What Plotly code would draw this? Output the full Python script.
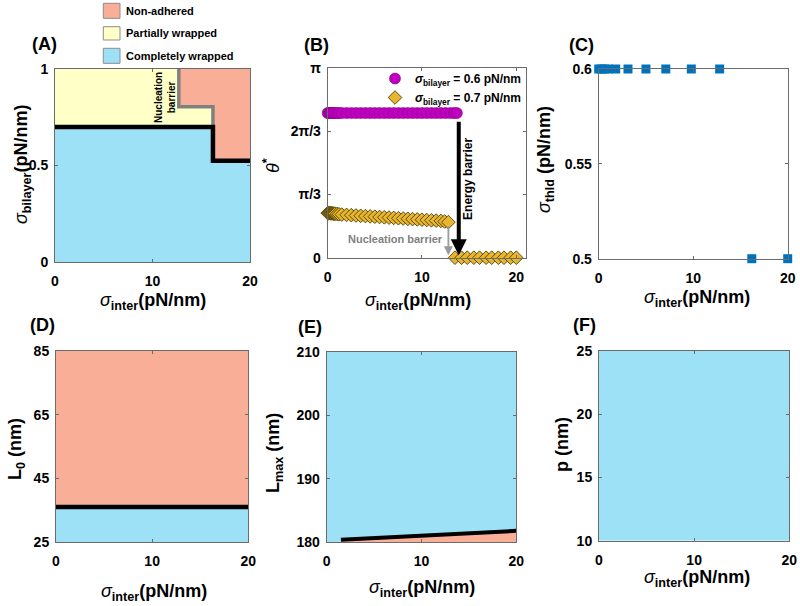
import plotly.graph_objects as go

# ----------------------------- data -----------------------------
# Panel A : phase diagram sigma_inter vs sigma_bilayer
a_x_range = [0, 20]
a_y_range = [0, 1]
a_complete_x = [0, 16.2, 16.2, 20]          # black boundary (completely wrapped)
a_complete_y = [0.70, 0.70, 0.525, 0.525]
a_nucleation_x = [12.7, 12.7, 16.2, 16.2]   # grey boundary (nucleation barrier)
a_nucleation_y = [1.0, 0.805, 0.805, 0.70]

# Panel B : wrapping angle theta* (rad)
b_x_range = [0, 21]
b_y_range = [0, 3.14159]
b_sig06_x = [0.0, 0.1, 0.2, 0.3, 0.4, 0.5, 0.6, 0.8, 1.0, 1.2, 1.5, 2.0, 2.5, 3.0,
             3.5, 4.0, 4.5, 5.0, 5.5, 6.0, 6.5, 7.0, 7.5, 8.0, 8.5, 9.0, 9.5, 10.0,
             10.5, 11.0, 11.5, 12.0, 12.5, 13.0, 13.4, 13.7]
b_sig06_y = [2.40, 2.40, 2.40, 2.40, 2.40, 2.40, 2.40, 2.40, 2.40, 2.40, 2.40, 2.40,
             2.40, 2.40, 2.40, 2.40, 2.40, 2.40, 2.40, 2.40, 2.40, 2.40, 2.40, 2.40,
             2.40, 2.40, 2.40, 2.40, 2.40, 2.40, 2.40, 2.40, 2.40, 2.40, 2.40, 2.40]
b_sig07_x = [0.0, 0.1, 0.2, 0.3, 0.4, 0.5, 0.6, 0.7, 0.8, 1.0, 1.2, 1.5, 2.0, 2.5,
             3.0, 3.5, 4.0, 4.5, 5.0, 5.5, 6.0, 6.5, 7.0, 7.5, 8.0, 8.5, 9.0, 9.5,
             10.0, 10.5, 11.0, 11.5, 12.0, 12.4, 12.8,
             13.5, 14.2, 14.8, 15.5, 16.1, 16.8, 17.4, 18.1, 18.7, 19.4, 20.0]
b_sig07_y = [0.74, 0.74, 0.74, 0.74, 0.735, 0.735, 0.73, 0.73, 0.73, 0.725, 0.72,
             0.715, 0.71, 0.705, 0.70, 0.695, 0.69, 0.685, 0.68, 0.675, 0.67, 0.665,
             0.66, 0.655, 0.65, 0.645, 0.64, 0.635, 0.63, 0.625, 0.62, 0.615, 0.61,
             0.60, 0.59,
             0.0, 0.0, 0.0, 0.0, 0.0, 0.0, 0.0, 0.0, 0.0, 0.0, 0.0]
b_ytick_vals = [0, 1.0472, 2.0944, 3.14159]
b_ytick_text = ["0", "π/3", "2π/3", "π"]
b_energy_x = 13.9            # energy barrier arrow
b_energy_from = 2.28
b_energy_to = 0.04
b_nuc_x = 12.8               # nucleation barrier arrow
b_nuc_from = 0.55
b_nuc_to = 0.04

# Panel C : threshold sigma
c_x_range = [0, 20]
c_y_range = [0.5, 0.6]
c_x = [0, 0.3, 0.6, 1.0, 1.8, 3.1, 5.0, 7.1, 9.8, 12.8, 16.2, 20.0]
c_y = [0.6, 0.6, 0.6, 0.6, 0.6, 0.6, 0.6, 0.6, 0.6, 0.6, 0.5, 0.5]

# Panel D : L0
d_x_range = [0, 20]
d_y_range = [25, 85]
d_boundary_x = [0, 20]
d_boundary_y = [36.1, 36.1]

# Panel E : Lmax
e_x_range = [0, 20]
e_y_range = [180, 210]
e_boundary_x = [1.5, 20]
e_boundary_y = [180.4, 181.8]

# Panel F : p
f_x_range = [0, 20]
f_y_range = [10, 25]

# ----------------------------- style -----------------------------
SALMON = "#F9AF97"
YELLOW = "#FFFFC8"
BLUE = "#9DE1F7"
PURPLE = "#BF00BF"
GOLD = "#E8B52E"
SQUARE = "#0072BD"
AXCOL = "#6b6b6b"
FONT = "Liberation Sans, Arial, sans-serif"
W, H = 800, 606

fig = go.Figure()


def poly(x, y, color, xa, ya):
    fig.add_trace(go.Scatter(x=x, y=y, mode="lines", fill="toself", fillcolor=color,
                             line=dict(width=0, color=color), hoverinfo="skip",
                             showlegend=False, xaxis=xa, yaxis=ya))


def line(x, y, color, width, xa, ya):
    fig.add_trace(go.Scatter(x=x, y=y, mode="lines", line=dict(color=color, width=width),
                             hoverinfo="skip", showlegend=False, xaxis=xa, yaxis=ya,
                             cliponaxis=False))


# --- Panel A
poly(a_complete_x + [a_x_range[1], a_x_range[0]],
     a_complete_y + [a_y_range[0], a_y_range[0]], BLUE, "x", "y")
poly([a_x_range[0]] + a_nucleation_x + [a_complete_x[0]],
     [a_y_range[1]] + a_nucleation_y + [a_complete_y[0]], YELLOW, "x", "y")
poly(a_nucleation_x + a_complete_x[2:] + [a_x_range[1]],
     a_nucleation_y + a_complete_y[2:] + [a_y_range[1]], SALMON, "x", "y")
line(a_nucleation_x, a_nucleation_y, "#808080", 3.5, "x", "y")
line(a_complete_x, a_complete_y, "black", 4.5, "x", "y")

# --- Panel B
fig.add_trace(go.Scatter(x=b_sig06_x, y=b_sig06_y, mode="markers",
                         marker=dict(symbol="circle", size=11, color=PURPLE,
                                     line=dict(color="#8a008a", width=0.6)),
                         name="<i>σ</i><sub>bilayer</sub> = 0.6 pN/nm",
                         xaxis="x2", yaxis="y2", cliponaxis=False))
fig.add_trace(go.Scatter(x=b_sig07_x, y=b_sig07_y, mode="markers",
                         marker=dict(symbol="diamond", size=10.5, color=GOLD,
                                     line=dict(color="#3a3000", width=0.8)),
                         name="<i>σ</i><sub>bilayer</sub> = 0.7 pN/nm",
                         xaxis="x2", yaxis="y2", cliponaxis=False))

# --- Panel C
fig.add_trace(go.Scatter(x=c_x, y=c_y, mode="markers",
                         marker=dict(symbol="square", size=9, color=SQUARE),
                         showlegend=False, xaxis="x3", yaxis="y3", cliponaxis=False))

# --- Panel D
poly([d_x_range[0], d_x_range[1], d_x_range[1], d_x_range[0]],
     [d_y_range[0], d_y_range[0], d_y_range[1], d_y_range[1]], SALMON, "x4", "y4")
poly(d_boundary_x + [d_x_range[1], d_x_range[0]],
     d_boundary_y + [d_y_range[0], d_y_range[0]], BLUE, "x4", "y4")
line(d_boundary_x, d_boundary_y, "black", 4.5, "x4", "y4")

# --- Panel E
poly([e_x_range[0], e_x_range[1], e_x_range[1], e_x_range[0]],
     [e_y_range[0], e_y_range[0], e_y_range[1], e_y_range[1]], BLUE, "x5", "y5")
poly(e_boundary_x + [e_x_range[1], e_boundary_x[0]],
     e_boundary_y + [e_y_range[0], e_y_range[0]], SALMON, "x5", "y5")
line(e_boundary_x, e_boundary_y, "black", 4, "x5", "y5")

# --- Panel F
poly([f_x_range[0], f_x_range[1], f_x_range[1], f_x_range[0]],
     [f_y_range[0], f_y_range[0], f_y_range[1], f_y_range[1]], BLUE, "x6", "y6")

# ----------------------------- axes -----------------------------
def px_dom_x(a, b):
    return [a / W, b / W]


def px_dom_y(top, bottom):
    return [1 - bottom / H, 1 - top / H]


panels = [
    # (xdomain px, ydomain px, xrange, yrange, yticks)
    ((55, 250), (69, 262), a_x_range, a_y_range, dict(tickvals=[0, 0.5, 1], ticktext=["0", "0.5", "1"])),
    ((327.7, 525.7), (68.3, 257.7), b_x_range, b_y_range, dict(tickvals=b_ytick_vals, ticktext=b_ytick_text)),
    ((598.7, 787.7), (69, 258.7), c_x_range, c_y_range, dict(tickvals=[0.5, 0.55, 0.6], ticktext=["0.5", "0.55", "0.6"])),
    ((56, 248.3), (351, 542.3), d_x_range, d_y_range, dict(tickvals=[25, 45, 65, 85])),
    ((326.7, 516.3), (351.7, 542.3), e_x_range, e_y_range, dict(tickvals=[180, 190, 200, 210])),
    ((599, 789.3), (350.7, 540.7), f_x_range, f_y_range, dict(tickvals=[10, 15, 20, 25])),
]

common = dict(showline=True, mirror="ticks", linecolor=AXCOL, linewidth=1,
              ticks="inside", ticklen=3, tickcolor=AXCOL, showgrid=False,
              zeroline=False, automargin=False,
              tickfont=dict(family=FONT, size=14, color="black", weight="bold"))

layout_axes = {}
for i, (xd, yd, xr, yr, yt) in enumerate(panels, start=1):
    xn = "xaxis" if i == 1 else f"xaxis{i}"
    yn = "yaxis" if i == 1 else f"yaxis{i}"
    anchor_y = "y" if i == 1 else f"y{i}"
    anchor_x = "x" if i == 1 else f"x{i}"
    layout_axes[xn] = dict(domain=px_dom_x(*xd), range=xr, anchor=anchor_y,
                           tickvals=[0, 10, 20], ticklabelstandoff=6, **common)
    layout_axes[yn] = dict(domain=px_dom_y(*yd), range=yr, anchor=anchor_x,
                           ticklabelstandoff=3, **yt, **common)

fig.update_layout(**layout_axes)

# ----------------------------- annotations -----------------------------
ann = []


def label(text, x, y, size=18, angle=0, color="black", xanchor="center", yanchor="middle"):
    ann.append(dict(text=text, x=x / W, y=1 - y / H, xref="paper", yref="paper",
                    showarrow=False, textangle=angle, xanchor=xanchor, yanchor=yanchor,
                    font=dict(family=FONT, size=size, color=color)))


SIG = "<i>σ</i>"
xtitle = SIG + "<b><sub>inter</sub>(pN/nm)</b>"

# panel letters
for t, x, y in [("(A)", 44, 44), ("(B)", 316.7, 45), ("(C)", 581.7, 45),
                ("(D)", 42.8, 325), ("(E)", 310.3, 326.7), ("(F)", 584.7, 325)]:
    label("<b>" + t + "</b>", x, y, size=18)

# x titles
for x, y in [(152.5, 301), (418, 302), (697, 298), (154, 592), (422, 588), (697, 578)]:
    label(xtitle, x, y, size=18)

# y titles
label(SIG + "<b><sub>bilayer</sub>(pN/nm)</b>", 22, 165, angle=-90)
label("<i>θ</i><b><sup>*</sup></b>", 271, 166, angle=-90)
label(SIG + "<b><sub>thld</sub> (pN/nm)</b>", 546, 160, angle=-90)
label("<b>L<sub>0</sub> (nm)</b>", 16, 449, angle=-90)
label("<b>L<sub>max</sub> (nm)</b>", 274, 453, angle=-90)
label("<b>p (nm)</b>", 562, 445, angle=-90)

# panel A legend (swatches + text)
shapes = []
for (txt, col, y0, y1) in [("Non-adhered", SALMON, 3.3, 18.3),
                           ("Partially wrapped", YELLOW, 26.7, 40),
                           ("Completely wrapped", BLUE, 48.3, 63.3)]:
    shapes.append(dict(type="rect", xref="paper", yref="paper",
                       x0=103.3 / W, x1=120 / W, y0=1 - y1 / H, y1=1 - y0 / H,
                       fillcolor=col, line=dict(color="#8c8c8c", width=1)))
    label("<b>" + txt + "</b>", 124, (y0 + y1) / 2, size=11, xanchor="left")

# panel A in-plot note
ann.append(dict(text="<b>Nucleation<br>barrier</b>", x=11.28, y=0.855, xref="x", yref="y",
                showarrow=False, textangle=-90,
                font=dict(family=FONT, size=10, color="black")))

# panel B arrows and notes
ann.append(dict(x=b_energy_x, y=b_energy_to, ax=b_energy_x, ay=b_energy_from,
                xref="x2", yref="y2", axref="x2", ayref="y2", text="",
                showarrow=True, arrowhead=2, arrowsize=0.8, arrowwidth=4, arrowcolor="black"))
ann.append(dict(x=b_nuc_x, y=b_nuc_to, ax=b_nuc_x, ay=b_nuc_from,
                xref="x2", yref="y2", axref="x2", ayref="y2", text="",
                showarrow=True, arrowhead=2, arrowsize=1, arrowwidth=1.8, arrowcolor="#9a9a9a"))
ann.append(dict(text="<b>Energy barrier</b>", x=14.9, y=1.31, xref="x2", yref="y2",
                showarrow=False, textangle=-90,
                font=dict(family=FONT, size=12, color="black")))
ann.append(dict(text="<b>Nucleation barrier</b>", x=7.22, y=0.31, xref="x2", yref="y2",
                showarrow=False,
                font=dict(family=FONT, size=11, color="#7f7f7f")))

fig.update_layout(
    template="none",
    width=W, height=H, autosize=False,
    margin=dict(l=0, r=0, t=0, b=0, pad=0),
    paper_bgcolor="white", plot_bgcolor="white",
    annotations=ann, shapes=shapes,
    showlegend=True,
    legend=dict(x=527 / W, y=1 - 64 / H, xanchor="right", yanchor="top",
                bgcolor="rgba(0,0,0,0)", borderwidth=0, tracegroupgap=0,
                itemwidth=30,
                font=dict(family=FONT, size=12, color="black", weight="bold")),
    font=dict(family=FONT),
)

fig.write_html("out.html", config={"displayModeBar": False},
               post_script="document.body.style.margin='0px';")
